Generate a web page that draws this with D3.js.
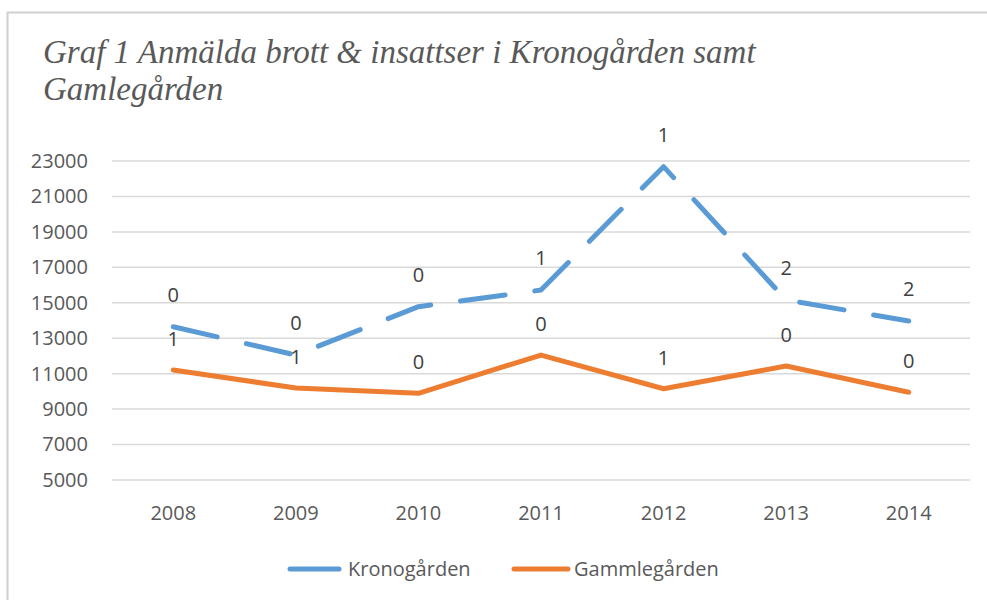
<!DOCTYPE html>
<html lang="sv">
<head>
<meta charset="utf-8">
<style>
  body { margin: 0; background: #fff; }
  svg { display: block; }
  .title { font: italic 33px "Liberation Serif", "Times New Roman", serif; fill: #595959; }
  .tick text { font: 20px "Open Sans", sans-serif; fill: #595959; }
  .lbl { font: 20px "Open Sans", sans-serif; fill: #404040; }
  .legend text { font: 20px "Open Sans", sans-serif; fill: #595959; }
</style>
<script src="https://d3js.org/d3.v7.min.js"></script>
</head>
<body>
<div id="chart"></div>
<script>
// data
var years = ["2008", "2009", "2010", "2011", "2012", "2013", "2014"];
var krono = [13650, 12050, 14780, 15720, 22680, 15160, 13970];
var gamle = [11210, 10190, 9890, 12050, 10150, 11430, 9950];
var kronoLabels = ["0", "0", "0", "1", "1", "2", "2"];
var gamleLabels = ["1", "1", "0", "0", "1", "0", "0"];
var yTicks = [5000, 7000, 9000, 11000, 13000, 15000, 17000, 19000, 21000, 23000];

var width = 987, height = 600;
var svg = d3.select("#chart").append("svg")
    .attr("width", width).attr("height", height);

// outer frame (left and top edges only are visible)
svg.append("line").attr("x1", 7).attr("x2", width).attr("y1", 12.5).attr("y2", 12.5)
    .attr("stroke", "#d0d0d0").attr("stroke-width", 2);
svg.append("line").attr("x1", 7.5).attr("x2", 7.5).attr("y1", 12).attr("y2", height)
    .attr("stroke", "#d0d0d0").attr("stroke-width", 2);

// title
var title = svg.append("text").attr("class", "title").attr("x", 43).attr("y", 63);
title.append("tspan").attr("x", 43).text("Graf 1 Anmälda brott & insattser i Kronogården samt");
title.append("tspan").attr("x", 43).attr("dy", 37).text("Gamlegården");

var x = d3.scaleBand().domain(years).range([112, 970]);
var y = d3.scaleLinear().domain([5000, 23000]).range([480, 161]);

// gridlines
svg.append("g").selectAll("line").data(yTicks).join("line")
    .attr("x1", 112).attr("x2", 970)
    .attr("y1", d => y(d)).attr("y2", d => y(d))
    .attr("stroke", "#d9d9d9").attr("stroke-width", 1.5);

// y axis
var yAxis = svg.append("g").attr("transform", "translate(96,0)")
    .call(d3.axisLeft(y).tickValues(yTicks).tickSize(0).tickPadding(8).tickFormat(d3.format("d")));
yAxis.select(".domain").remove();

// x axis
var xAxis = svg.append("g").attr("transform", "translate(0,480)")
    .call(d3.axisBottom(x).tickSize(0).tickPadding(26));
xAxis.select(".domain").remove();

var cx = d => x(d) + x.bandwidth() / 2;
var line = d3.line().x((d, i) => cx(years[i])).y(d => y(d));

svg.append("path").datum(gamle)
    .attr("d", line).attr("fill", "none")
    .attr("stroke", "#ed7d31").attr("stroke-width", 5)
    .attr("stroke-linejoin", "round").attr("stroke-linecap", "round");

svg.append("path").datum(krono)
    .attr("d", line).attr("fill", "none")
    .attr("stroke", "#5b9bd5").attr("stroke-width", 5)
    .attr("stroke-dasharray", "45,30")
    .attr("stroke-linejoin", "round").attr("stroke-linecap", "round");

// data labels
svg.append("g").selectAll("text").data(krono).join("text")
    .attr("class", "lbl").attr("text-anchor", "middle")
    .attr("x", (d, i) => cx(years[i])).attr("y", d => y(d) - 25)
    .text((d, i) => kronoLabels[i]);
svg.append("g").selectAll("text").data(gamle).join("text")
    .attr("class", "lbl").attr("text-anchor", "middle")
    .attr("x", (d, i) => cx(years[i])).attr("y", d => y(d) - 24)
    .text((d, i) => gamleLabels[i]);

// legend
var legend = svg.append("g").attr("class", "legend");
var items = [
  { name: "Kronogården", color: "#5b9bd5", x1: 290, x2: 339, tx: 348 },
  { name: "Gammlegården", color: "#ed7d31", x1: 514, x2: 568, tx: 574 }
];
items.forEach(function(it) {
  legend.append("line").attr("x1", it.x1).attr("x2", it.x2).attr("y1", 569).attr("y2", 569)
      .attr("stroke", it.color).attr("stroke-width", 5).attr("stroke-linecap", "round");
  legend.append("text").attr("x", it.tx).attr("y", 576).text(it.name);
});
</script>
</body>
</html>
